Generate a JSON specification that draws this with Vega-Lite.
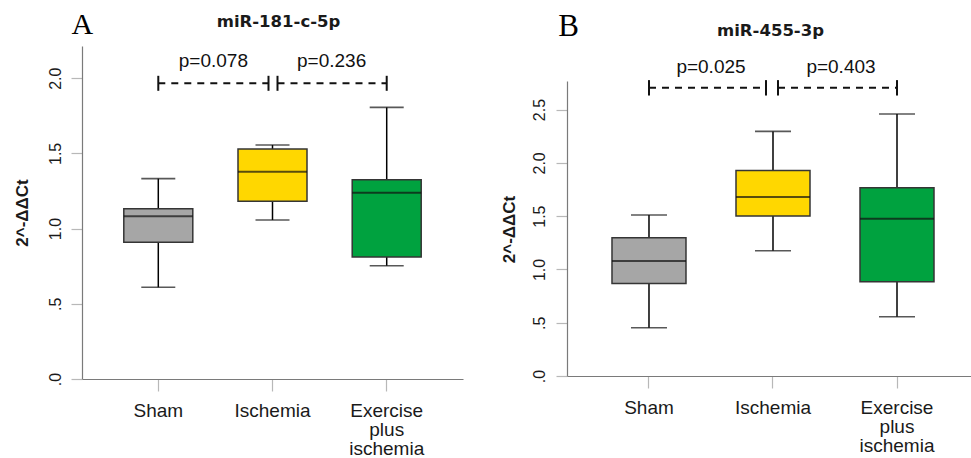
{
  "$schema": "https://vega.github.io/schema/vega-lite/v6.json",
  "background": "white",
  "padding": {"left": 13, "top": 9, "right": 0, "bottom": 0},
  "spacing": 37,
  "config": {
    "view": {"stroke": null},
    "font": "Liberation Sans",
    "axis": {"grid": false, "domainColor": "#7a7a7a", "domainWidth": 1.2, "tickColor": "#b8b8b8", "tickWidth": 1.2, "labelColor": "#1a1a1a", "titleColor": "#1a1a1a"}
  },
  "datasets": {
    "boxes": [
      {"panel": "A", "group": "Sham", "min": 0.610, "q1": 0.909, "median": 1.082, "q3": 1.132, "max": 1.332},
      {"panel": "A", "group": "Ischemia", "min": 1.057, "q1": 1.181, "median": 1.378, "q3": 1.529, "max": 1.556},
      {"panel": "A", "group": "Exercise plus ischemia", "min": 0.753, "q1": 0.811, "median": 1.239, "q3": 1.325, "max": 1.806},
      {"panel": "B", "group": "Sham", "min": 0.453, "q1": 0.869, "median": 1.079, "q3": 1.297, "max": 1.510},
      {"panel": "B", "group": "Ischemia", "min": 1.175, "q1": 1.501, "median": 1.679, "q3": 1.929, "max": 2.295},
      {"panel": "B", "group": "Exercise plus ischemia", "min": 0.556, "q1": 0.885, "median": 1.476, "q3": 1.766, "max": 2.458}
    ],
    "brackets": [
      {"panel": "A", "from": "Sham", "to": "Ischemia", "y": 1.966, "label": "p=0.078"},
      {"panel": "A", "from": "Ischemia", "to": "Exercise plus ischemia", "y": 1.966, "label": "p=0.236"},
      {"panel": "B", "from": "Sham", "to": "Ischemia", "y": 2.704, "label": "p=0.025"},
      {"panel": "B", "from": "Ischemia", "to": "Exercise plus ischemia", "y": 2.704, "label": "p=0.403"}
    ]
  },
  "hconcat": [
    {
      "width": 381,
      "height": 333,
      "resolve": {"axis": {"x": "independent", "y": "independent"}},
      "layer": [
        {
          "data": {"name": "boxes"},
          "transform": [{"filter": "datum.panel === 'A'"}],
          "mark": {"type": "rule", "color": "black", "strokeWidth": 1.5},
          "encoding": {
            "x": {"field": "group", "type": "nominal",
              "scale": {"domain": ["Sham", "Ischemia", "Exercise plus ischemia"], "paddingInner": 0, "paddingOuter": 0.168},
              "axis": {"orient": "bottom", "title": null, "labelAngle": 0, "tickSize": 12, "labelPadding": 10, "labelFontSize": 19, "labelLineHeight": 19, "labelBaseline": "top",
                "labelExpr": "datum.value === 'Exercise plus ischemia' ? ['Exercise', 'plus', 'ischemia'] : datum.value"}},
            "y": {"field": "min", "type": "quantitative",
              "scale": {"domain": [0, 2.214], "nice": false, "zero": true},
              "axis": {"orient": "left", "values": [0, 0.5, 1, 1.5, 2], "tickSize": 11, "labelAngle": -90, "labelAlign": "center", "labelBaseline": "alphabetic", "labelPadding": 11, "labelFontSize": 16,
                "labelExpr": "datum.value < 1 ? '.' + format(datum.value * 10, 'd') : format(datum.value, '.1f')",
                "title": "2^-ΔΔCt", "titleFontSize": 17, "titleFontWeight": "bold", "titleAngle": 270, "titleAlign": "center", "titleBaseline": "alphabetic", "titleX": -54.3, "titleY": 166.5}},
            "y2": {"field": "max"}
          }
        },
        {
          "data": {"name": "boxes"},
          "transform": [{"filter": "datum.panel === 'A'"}],
          "mark": {"type": "bar", "size": 69, "stroke": "#353535", "strokeWidth": 1.5},
          "encoding": {
            "x": {"field": "group", "type": "nominal", "axis": null},
            "y": {"field": "q1", "type": "quantitative", "axis": null},
            "y2": {"field": "q3"},
            "color": {"field": "group", "type": "nominal", "legend": null,
              "scale": {"domain": ["Sham", "Ischemia", "Exercise plus ischemia"], "range": ["#a6a6a6", "#ffd700", "#00a23f"]}}
          }
        },
        {
          "data": {"name": "boxes"},
          "transform": [{"filter": "datum.panel === 'A'"}],
          "mark": {"type": "tick", "size": 69, "thickness": 2, "color": "#111111"},
          "encoding": {
            "x": {"field": "group", "type": "nominal", "axis": null},
            "y": {"field": "median", "type": "quantitative", "axis": null}
          }
        },
        {
          "data": {"name": "boxes"},
          "transform": [{"filter": "datum.panel === 'A'"}, {"fold": ["min", "max"], "as": ["stat", "val"]}],
          "mark": {"type": "tick", "size": 34, "thickness": 1.6, "color": "#111111"},
          "encoding": {
            "x": {"field": "group", "type": "nominal", "axis": null},
            "y": {"field": "val", "type": "quantitative", "axis": null}
          }
        },
        {
          "data": {"name": "brackets"},
          "transform": [{"filter": "datum.panel === 'A'"}],
          "mark": {"type": "rule", "color": "#111111", "strokeWidth": 2, "strokeDash": [7, 6],
            "xOffset": {"expr": "datum.from === 'Ischemia' ? 5 : 0"},
            "x2Offset": {"expr": "datum.to === 'Ischemia' ? -4 : 0"}},
          "encoding": {
            "x": {"field": "from", "type": "nominal", "axis": null},
            "x2": {"field": "to"},
            "y": {"field": "y", "type": "quantitative", "axis": null}
          }
        },
        {
          "data": {"name": "brackets"},
          "transform": [{"filter": "datum.panel === 'A'"}, {"fold": ["from", "to"], "as": ["end", "cat"]}],
          "mark": {"type": "rule", "color": "#111111", "strokeWidth": 2, "yOffset": -7.5, "y2Offset": 7.5,
            "xOffset": {"expr": "datum.cat === 'Ischemia' ? (datum.end === 'from' ? 5 : -4) : 0"}},
          "encoding": {
            "x": {"field": "cat", "type": "nominal", "axis": null},
            "y": {"field": "y", "type": "quantitative", "axis": null},
            "y2": {"field": "y"}
          }
        },
        {
          "data": {"name": "brackets"},
          "transform": [{"filter": "datum.panel === 'A'"}],
          "mark": {"type": "text", "fontSize": 19, "color": "#111111", "baseline": "alphabetic", "align": "center", "dy": -16,
            "dx": {"expr": "datum.from === 'Sham' ? -2 : 2"}},
          "encoding": {
            "x": {"field": "from", "type": "nominal", "bandPosition": 1,
              "axis": {"orient": "top", "domain": false, "ticks": false, "labels": false, "title": "miR-181-c-5p",
                "titleFont": "DejaVu Sans", "titleFontSize": 16.5, "titleFontWeight": "bold", "titleAlign": "center", "titleBaseline": "alphabetic", "titleX": 196, "titleY": -20}},
            "y": {"field": "y", "type": "quantitative",
              "axis": {"orient": "right", "domain": false, "ticks": false, "labels": false, "title": "A",
                "titleFont": "Liberation Serif", "titleFontSize": 30, "titleFontWeight": "normal", "titleColor": "black", "titleAngle": 0, "titleAlign": "left", "titleBaseline": "alphabetic", "titleX": -392, "titleY": -13}},
            "text": {"field": "label"}
          }
        }
      ]
    },
    {
      "width": 405,
      "height": 330,
      "resolve": {"axis": {"x": "independent", "y": "independent"}},
      "layer": [
        {
          "data": {"name": "boxes"},
          "transform": [{"filter": "datum.panel === 'B'"}],
          "mark": {"type": "rule", "color": "black", "strokeWidth": 1.5},
          "encoding": {
            "x": {"field": "group", "type": "nominal",
              "scale": {"domain": ["Sham", "Ischemia", "Exercise plus ischemia"], "paddingInner": 0, "paddingOuter": 0.133, "align": 0.606},
              "axis": {"orient": "bottom", "title": null, "labelAngle": 0, "tickSize": 12, "labelPadding": 10, "labelFontSize": 19, "labelLineHeight": 19, "labelBaseline": "top",
                "labelExpr": "datum.value === 'Exercise plus ischemia' ? ['Exercise', 'plus', 'ischemia'] : datum.value"}},
            "y": {"field": "min", "type": "quantitative",
              "scale": {"domain": [0, 2.768], "nice": false, "zero": true, "range": [330, 35]},
              "axis": {"orient": "left", "values": [0, 0.5, 1, 1.5, 2, 2.5], "tickSize": 11, "labelAngle": -90, "labelAlign": "center", "labelBaseline": "alphabetic", "labelPadding": 11.5, "labelFontSize": 16,
                "labelExpr": "datum.value < 1 ? '.' + format(datum.value * 10, 'd') : format(datum.value, '.1f')",
                "title": "2^-ΔΔCt", "titleFontSize": 17, "titleFontWeight": "bold", "titleAngle": 270, "titleAlign": "center", "titleBaseline": "alphabetic", "titleX": -52.6, "titleY": 183}},
            "y2": {"field": "max"}
          }
        },
        {
          "data": {"name": "boxes"},
          "transform": [{"filter": "datum.panel === 'B'"}],
          "mark": {"type": "bar", "size": 74, "stroke": "#353535", "strokeWidth": 1.5},
          "encoding": {
            "x": {"field": "group", "type": "nominal", "axis": null},
            "y": {"field": "q1", "type": "quantitative", "axis": null},
            "y2": {"field": "q3"},
            "color": {"field": "group", "type": "nominal", "legend": null,
              "scale": {"domain": ["Sham", "Ischemia", "Exercise plus ischemia"], "range": ["#a6a6a6", "#ffd700", "#00a23f"]}}
          }
        },
        {
          "data": {"name": "boxes"},
          "transform": [{"filter": "datum.panel === 'B'"}],
          "mark": {"type": "tick", "size": 74, "thickness": 2, "color": "#111111"},
          "encoding": {
            "x": {"field": "group", "type": "nominal", "axis": null},
            "y": {"field": "median", "type": "quantitative", "axis": null}
          }
        },
        {
          "data": {"name": "boxes"},
          "transform": [{"filter": "datum.panel === 'B'"}, {"fold": ["min", "max"], "as": ["stat", "val"]}],
          "mark": {"type": "tick", "size": 36, "thickness": 1.6, "color": "#111111"},
          "encoding": {
            "x": {"field": "group", "type": "nominal", "axis": null},
            "y": {"field": "val", "type": "quantitative", "axis": null}
          }
        },
        {
          "data": {"name": "brackets"},
          "transform": [{"filter": "datum.panel === 'B'"}],
          "mark": {"type": "rule", "color": "#111111", "strokeWidth": 2, "strokeDash": [7, 6],
            "xOffset": {"expr": "datum.from === 'Ischemia' ? 5 : 0"},
            "x2Offset": {"expr": "datum.to === 'Ischemia' ? -7 : 0"}},
          "encoding": {
            "x": {"field": "from", "type": "nominal", "axis": null},
            "x2": {"field": "to"},
            "y": {"field": "y", "type": "quantitative", "axis": null}
          }
        },
        {
          "data": {"name": "brackets"},
          "transform": [{"filter": "datum.panel === 'B'"}, {"fold": ["from", "to"], "as": ["end", "cat"]}],
          "mark": {"type": "rule", "color": "#111111", "strokeWidth": 2, "yOffset": -7.7, "y2Offset": 7.7,
            "xOffset": {"expr": "datum.cat === 'Ischemia' ? (datum.end === 'from' ? 5 : -7) : 0"}},
          "encoding": {
            "x": {"field": "cat", "type": "nominal", "axis": null},
            "y": {"field": "y", "type": "quantitative", "axis": null},
            "y2": {"field": "y"}
          }
        },
        {
          "data": {"name": "brackets"},
          "transform": [{"filter": "datum.panel === 'B'"}],
          "mark": {"type": "text", "fontSize": 19, "color": "#111111", "baseline": "alphabetic", "align": "center", "dy": -15,
            "dx": {"expr": "datum.from === 'Sham' ? 0 : 6"}},
          "encoding": {
            "x": {"field": "from", "type": "nominal", "bandPosition": 1,
              "axis": {"orient": "top", "domain": false, "ticks": false, "labels": false, "title": "miR-455-3p",
                "titleFont": "DejaVu Sans", "titleFontSize": 16.5, "titleFontWeight": "bold", "titleAlign": "center", "titleBaseline": "alphabetic", "titleX": 203, "titleY": -11}},
            "y": {"field": "y", "type": "quantitative",
              "axis": {"orient": "right", "domain": false, "ticks": false, "labels": false, "title": "B",
                "titleFont": "Liberation Serif", "titleFontSize": 31, "titleFontWeight": "normal", "titleColor": "black", "titleAngle": 0, "titleAlign": "left", "titleBaseline": "alphabetic", "titleX": -414.3, "titleY": -11}},
            "text": {"field": "label"}
          }
        }
      ]
    }
  ]
}
